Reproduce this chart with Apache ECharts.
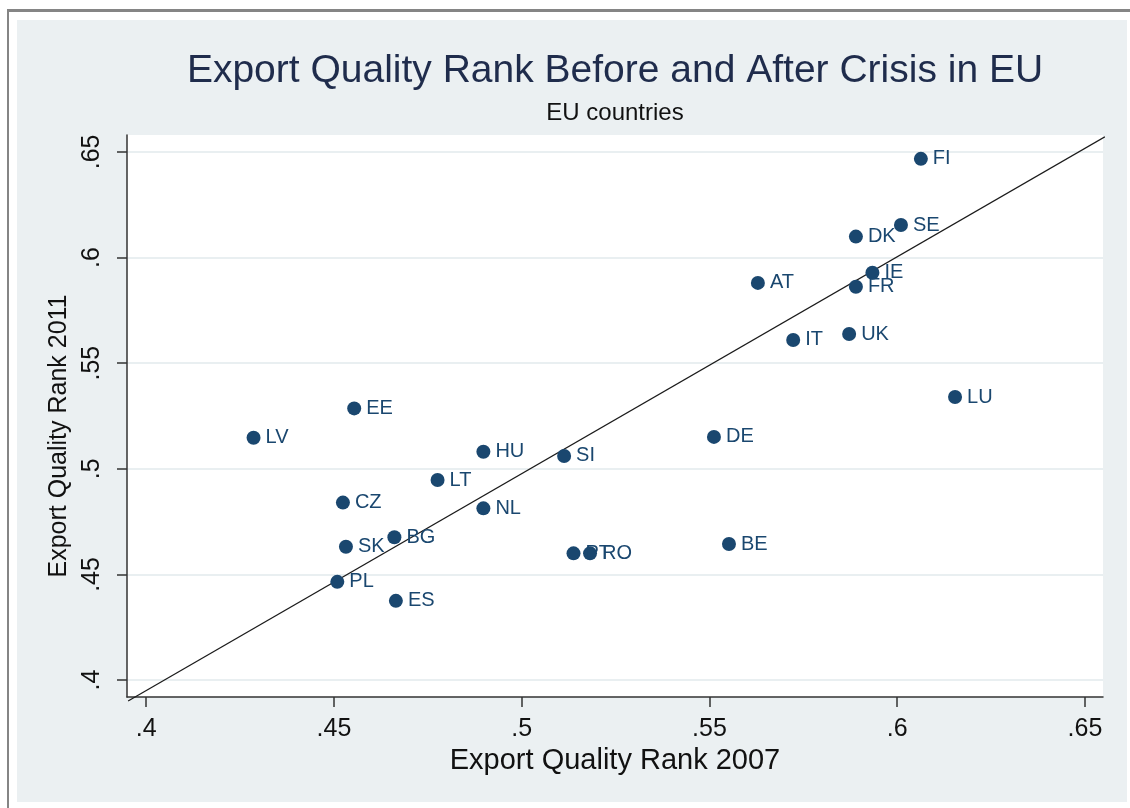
<!DOCTYPE html>
<html>
<head>
<meta charset="utf-8">
<script src="https://cdn.jsdelivr.net/npm/echarts@6/dist/echarts.min.js"></script>
<style>
  html, body { margin: 0; padding: 0; background: #ffffff; }
  body { width: 1130px; height: 808px; position: relative; overflow: hidden; }
  /* window frame and graph region backdrop */
  #frame { position: absolute; left: 7px; top: 9px; width: 1123px; height: 799px;
           border-top: 3px solid #858585; border-left: 2px solid #858585; box-sizing: border-box; }
  #region { position: absolute; left: 17px; top: 20px; width: 1110px; height: 782px; background: #ebf0f2; }
  #chart { position: absolute; left: 0; top: 0; width: 1130px; height: 808px; }
</style>
</head>
<body>
<div id="frame"></div>
<div id="region"></div>
<div id="chart"></div>
<script>
// Export quality rank of EU members, 2007 vs 2011
const countries = ['FI', 'SE', 'DK', 'IE', 'FR', 'AT', 'IT', 'UK', 'LU', 'DE', 'BE',
                   'EE', 'LV', 'HU', 'SI', 'LT', 'CZ', 'NL', 'BG', 'SK', 'PT', 'RO', 'PL', 'ES'];
const rank2007 = [0.6063, 0.6010, 0.5890, 0.5934, 0.5890, 0.5629, 0.5723, 0.5872, 0.6154, 0.5512, 0.5552,
                  0.4554, 0.4286, 0.4898, 0.5113, 0.4776, 0.4524, 0.4898, 0.4661, 0.4532, 0.5138, 0.5182, 0.4509, 0.4665];
const rank2011 = [0.6467, 0.6154, 0.6099, 0.5928, 0.5862, 0.5880, 0.5610, 0.5638, 0.5340, 0.5151, 0.4644,
                  0.5286, 0.5147, 0.5081, 0.5061, 0.4947, 0.4840, 0.4813, 0.4676, 0.4631, 0.4600, 0.4600, 0.4465, 0.4375];

// Axis tick values (shared by both axes) and the reference diagonal
const tickValues = [0.4, 0.45, 0.5, 0.55, 0.6, 0.65];
const refLine = [[0.3952, 0.3901], [0.6553, 0.6571]];

const navy = '#1a476f';
const font = "'Liberation Sans', Arial, sans-serif";
const fmt = v => String(+v.toFixed(2)).replace(/^0/, '');

const points = countries.map((c, i) => ({ name: c, value: [rank2007[i], rank2011[i]] }));

const chart = echarts.init(document.getElementById('chart'), null, { renderer: 'canvas' });
chart.setOption({
  backgroundColor: 'transparent',
  animation: false,
  title: [
    { text: 'Export Quality Rank Before and After Crisis in EU', left: 615, top: 52, textAlign: 'center',
      padding: 0, textStyle: { fontFamily: font, fontSize: 39, fontWeight: 'normal', color: '#1f2c4c' } },
    { text: 'EU countries', left: 615, top: 101, textAlign: 'center', padding: 0,
      textStyle: { fontFamily: font, fontSize: 24, fontWeight: 'normal', color: '#111111' } }
  ],
  grid: { left: 127, right: 27, top: 135, bottom: 111, show: true, backgroundColor: '#ffffff', borderWidth: 0 },
  xAxis: {
    type: 'value', min: 0.3949, max: 0.6548,
    name: 'Export Quality Rank 2007', nameLocation: 'middle', nameGap: 42,
    nameTextStyle: { fontFamily: font, fontSize: 29, color: '#111111' },
    axisLine: { show: true, lineStyle: { color: '#333333', width: 1.5 } },
    axisTick: { show: true, length: 10, customValues: tickValues, lineStyle: { color: '#333333', width: 1.5 } },
    axisLabel: { customValues: tickValues, margin: 20, formatter: fmt,
                 fontFamily: font, fontSize: 25, color: '#111111' },
    splitLine: { show: false }
  },
  yAxis: {
    type: 'value', min: 0.3920, max: 0.6580,
    name: 'Export Quality Rank 2011', nameLocation: 'middle', nameGap: 48, nameRotate: 90,
    nameTextStyle: { fontFamily: font, fontSize: 25, color: '#111111', padding: [0, 40, 0, 0] },
    axisLine: { show: true, lineStyle: { color: '#333333', width: 1.5 } },
    axisTick: { show: true, length: 10, customValues: tickValues, lineStyle: { color: '#333333', width: 1.5 } },
    axisLabel: { customValues: tickValues, margin: 22, rotate: 90, formatter: fmt,
                 fontFamily: font, fontSize: 25, color: '#111111' },
    splitLine: { show: true, lineStyle: { color: '#e9eff1', width: 2 } }
  },
  series: [
    {
      type: 'line', data: refLine, symbol: 'none', silent: true, clip: false, z: 3,
      lineStyle: { color: '#1b1b1b', width: 1.3 }
    },
    {
      type: 'scatter', data: points, symbol: 'circle', symbolSize: 14, z: 4,
      itemStyle: { color: navy, opacity: 1 },
      label: { show: true, position: 'right', distance: 5, formatter: '{b}',
               fontFamily: font, fontSize: 20, color: navy }
    }
  ]
});
</script>
</body>
</html>
